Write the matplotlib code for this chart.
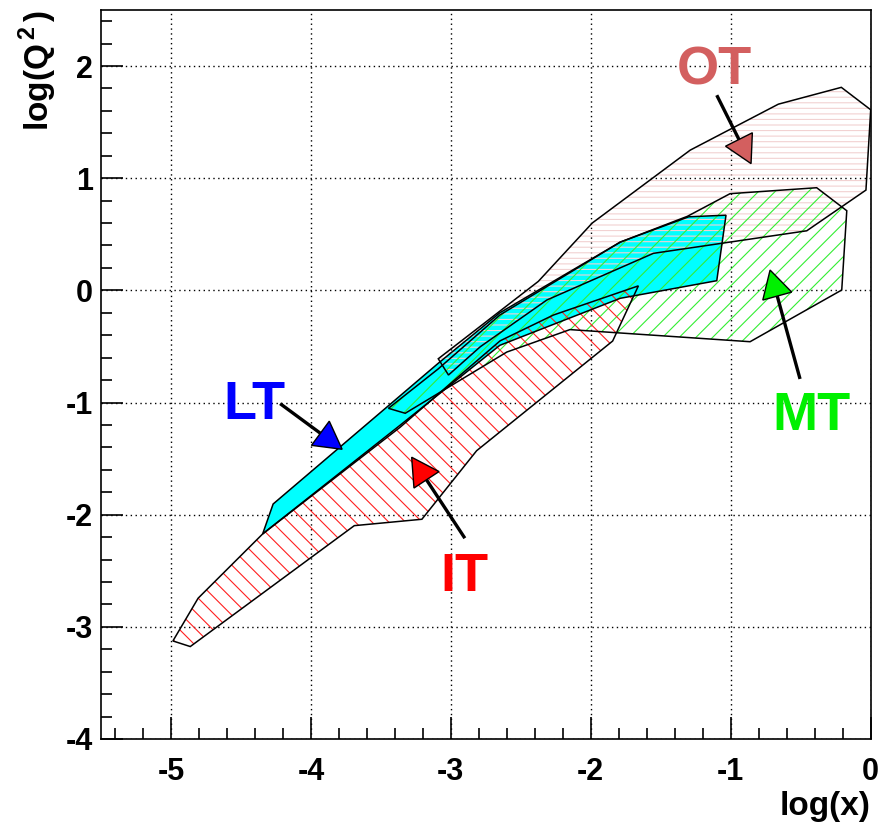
import matplotlib.pyplot as plt
import numpy as np
from matplotlib.patches import Polygon
from matplotlib.ticker import MultipleLocator

plt.rcParams['font.family'] = ['Liberation Sans', 'DejaVu Sans']
plt.rcParams['font.weight'] = 'bold'
plt.rcParams['axes.unicode_minus'] = False
plt.rcParams['mathtext.fontset'] = 'custom'
plt.rcParams['mathtext.rm'] = 'Liberation Sans:bold'
plt.rcParams['mathtext.bf'] = 'Liberation Sans:bold'
plt.rcParams['hatch.linewidth'] = 0.8

# region outlines in (log x, log Q^2)
lt_x = [-4.345, -4.27, -3.09, -2.65, -1.79, -1.30, -1.034, -1.10, -1.79, -2.65, -3.36]
lt_y = [-2.172, -1.905, -0.65, -0.20, 0.43, 0.656, 0.67, 0.086, -0.071, -0.49, -1.20]

ot_x = [-3.09, -2.375, -1.99, -1.29, -0.66, -0.21, 0.0, -0.034, -0.457, -1.553, -2.314, -2.79, -3.017]
ot_y = [-0.61, 0.08, 0.60, 1.25, 1.66, 1.81, 1.61, 0.894, 0.531, 0.33, -0.086, -0.503, -0.755]

mt_x = [-3.446, -3.09, -2.65, -1.79, -1.31, -1.005, -0.386, -0.171, -0.207, -0.862, -2.149, -2.60, -3.326]
mt_y = [-1.052, -0.70, -0.22, 0.43, 0.66, 0.862, 0.915, 0.71, 0.003, -0.458, -0.35, -0.55, -1.096]

it_x = [-4.986, -4.862, -3.69, -3.207, -2.816, -1.844, -1.66, -2.267, -2.648, -3.03, -3.362, -4.345, -4.806]
it_y = [-3.126, -3.176, -2.098, -2.041, -1.43, -0.452, 0.04, -0.22, -0.45, -0.86, -1.22, -2.172, -2.745]

# labels: name, text position, arrow start, arrow tip, colour
labels = ['OT', 'LT', 'IT', 'MT']
label_pos = [(-1.12, 1.96), (-4.40, -1.02), (-2.90, -2.56), (-0.42, -1.12)]
arrow_start = [(-1.10, 1.74), (-4.22, -1.01), (-2.90, -2.21), (-0.505, -0.79)]
arrow_tip = [(-0.855, 1.13), (-3.777, -1.417), (-3.28, -1.488), (-0.719, 0.181)]
label_col = ['#d35f5f', '#0000ff', '#ff0000', '#00f000']

fig = plt.figure(figsize=(8.82, 8.23), dpi=100)
ax = fig.add_axes([0.1145, 0.1021, 0.8727, 0.8858])
ax.set_xlim(-5.5, 0)
ax.set_ylim(-4, 2.5)

ax.xaxis.set_major_locator(MultipleLocator(1))
ax.xaxis.set_minor_locator(MultipleLocator(0.2))
ax.yaxis.set_major_locator(MultipleLocator(1))
ax.yaxis.set_minor_locator(MultipleLocator(0.2))
ax.tick_params(which='both', direction='in', top=False, right=False, width=1.2)
ax.tick_params(which='major', length=16, labelsize=22)
ax.tick_params(which='minor', length=8)
ax.tick_params(axis='x', which='major', pad=13)
ax.tick_params(axis='y', which='major', pad=6)
for lab in ax.get_xticklabels() + ax.get_yticklabels():
    lab.set_fontweight('bold')
for sp in ax.spines.values():
    sp.set_linewidth(1.2)
ax.grid(True, which='major', color='black', linestyle=(0, (1, 2.5)), linewidth=1.0, zorder=0)
ax.set_axisbelow(True)

# LT solid fill first, hatched regions on top
ax.add_patch(Polygon(np.column_stack([lt_x, lt_y]), closed=True, fc='#00ffff', ec='none', zorder=1))
ax.add_patch(Polygon(np.column_stack([ot_x, ot_y]), closed=True, fill=False, hatch='---',
                     ec='#f2d2d2', lw=0, zorder=2))
ax.add_patch(Polygon(np.column_stack([mt_x, mt_y]), closed=True, fill=False, hatch='//',
                     ec='#33ee33', lw=0, zorder=2))
ax.add_patch(Polygon(np.column_stack([it_x, it_y]), closed=True, fill=False, hatch='\\\\',
                     ec='#ff2020', lw=0, zorder=2))
for xs, ys in [(lt_x, lt_y), (ot_x, ot_y), (mt_x, mt_y), (it_x, it_y)]:
    ax.add_patch(Polygon(np.column_stack([xs, ys]), closed=True, fill=False,
                         ec='black', lw=1.1, zorder=3))


def arrow(start, tip, color, head_len=27, head_w=30):
    T = ax.transData
    s = T.transform(start)
    t = T.transform(tip)
    d = t - s
    u = d / np.hypot(*d)
    n = np.array([-u[1], u[0]])
    base = t - u * head_len
    pts = T.inverted().transform([t, base + n * head_w / 2, base - n * head_w / 2])
    b = T.inverted().transform(base)
    ax.plot([start[0], b[0]], [start[1], b[1]], color='black', lw=2.4, zorder=4,
            solid_capstyle='butt')
    ax.add_patch(Polygon(pts, closed=True, fc=color, ec='black', lw=1.0, zorder=5))


for name, pos, s, t, c in zip(labels, label_pos, arrow_start, arrow_tip, label_col):
    ax.text(pos[0], pos[1], name, color=c, fontsize=39, fontweight='bold',
            ha='center', va='center', zorder=6)
    arrow(s, t, c)

ax.set_xlabel('log(x)', fontsize=24, fontweight='bold')
ax.xaxis.set_label_coords(1.0, -0.071)
ax.xaxis.label.set_ha('right')
ax.set_ylabel(r'log(Q$^{\,\mathbf{2}\,}$)', fontsize=24, fontweight='bold')
ax.yaxis.set_label_coords(-0.055, 1.0)
ax.yaxis.label.set_ha('right')

fig.savefig('out.png', dpi=100)
